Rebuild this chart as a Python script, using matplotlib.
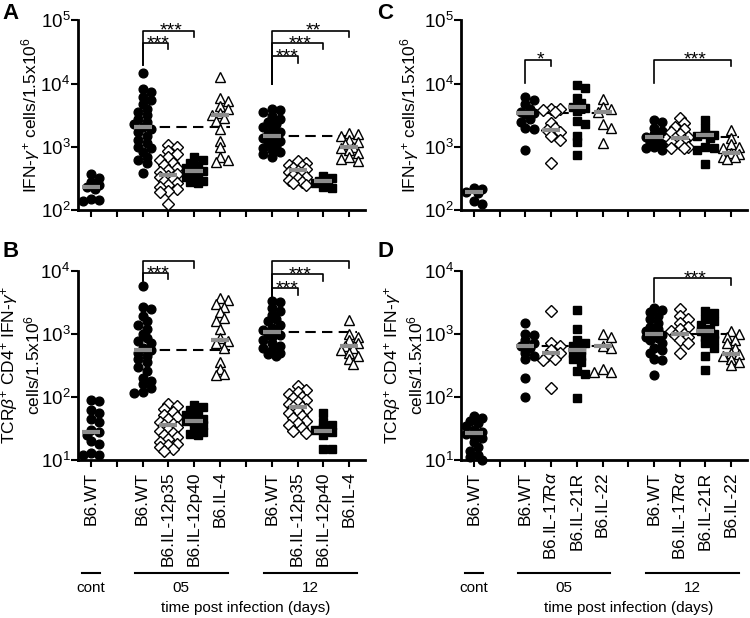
import numpy as np
import matplotlib
matplotlib.use('Agg')
import matplotlib.pyplot as plt
from matplotlib.ticker import NullLocator
from matplotlib.transforms import blended_transform_factory

plt.rcParams['font.family'] = ['Liberation Sans', 'DejaVu Sans']
plt.rcParams['mathtext.fontset'] = 'custom'
plt.rcParams['mathtext.rm'] = 'Liberation Sans'
plt.rcParams['mathtext.it'] = 'Liberation Sans:italic'
plt.rcParams['mathtext.bf'] = 'Liberation Sans:bold'

# column positions: cont, day 05 (4 strains), day 12 (4 strains)
positions = [0, 2, 3, 4, 5, 7, 8, 9, 10]
markers = ['o', 'o', 'D', 's', '^', 'o', 'D', 's', '^']

# ---- panel A: IFN-g+ cells, IL-12/IL-4 knockouts
a_vals = [
    [370, 320, 275, 250, 230, 215, 150, 140, 145],
    [14500, 8200, 7500, 6200, 5500, 4800, 4000, 3500, 3200, 2800, 2500, 2300, 2100,
     1900, 1700, 1500, 1300, 1150, 1000, 950, 820, 700, 620, 560, 380],
    [1080, 1000, 850, 760, 680, 620, 560, 510, 470, 430, 400, 370, 350, 330, 310,
     290, 270, 250, 230, 215, 200, 190, 125],
    [680, 620, 550, 500, 470, 440, 410, 390, 360, 330, 300, 290, 280, 270],
    [12800, 6000, 5300, 4500, 3900, 3400, 3200, 2900, 2600, 1950, 1250, 1000, 700, 620, 580],
    [4000, 3800, 3500, 3100, 2800, 2500, 2300, 2100, 1900, 1700, 1600, 1500, 1400,
     1350, 1250, 1150, 1050, 950, 880, 820, 760, 700],
    [600, 560, 520, 490, 460, 440, 420, 400, 380, 360, 340, 320, 300, 280, 265, 250],
    [350, 320, 290, 280, 270, 230, 220],
    [1650, 1600, 1500, 1300, 1200, 1100, 1000, 950, 900, 800, 700, 650, 600],
]
a_medians = [230, 2100, 355, 410, 3200, 1500, 430, 285, 1000]

# ---- panel B: TCRb+ CD4+ IFN-g+ cells, IL-12/IL-4 knockouts
b_vals = [
    [88, 86, 62, 55, 45, 40, 30, 28, 25, 20, 18, 13, 12, 12],
    [5800, 2700, 2500, 1900, 1600, 1400, 1200, 1000, 850, 780, 700, 600, 560, 500,
     450, 400, 350, 300, 260, 200, 180, 160, 140, 120, 115],
    [78, 72, 65, 58, 52, 48, 44, 40, 37, 35, 33, 31, 29, 27, 25, 23, 21, 19, 18, 17,
     16, 15, 14],
    [75, 70, 62, 58, 52, 48, 44, 42, 40, 36, 32, 28, 26, 25],
    [3700, 3400, 3000, 2700, 2200, 1800, 1600, 1200, 850, 780, 700, 600, 350, 280, 230, 220],
    [3300, 3200, 2600, 2300, 2000, 1700, 1600, 1400, 1250, 1150, 1050, 1000, 950, 900,
     800, 700, 650, 600, 550, 500, 470, 450],
    [150, 130, 120, 110, 100, 95, 88, 82, 76, 70, 68, 64, 60, 55, 50, 46, 42, 38, 35,
     32, 29, 27],
    [55, 40, 36, 32, 30, 28, 25, 15, 15],
    [1650, 1000, 900, 800, 700, 650, 600, 550, 500, 450, 400, 330],
]
b_medians = [28, 550, 35, 42, 790, 1050, 68, 29, 640]

# ---- panel C: IFN-g+ cells, IL-17Ra/IL-21R/IL-22 knockouts
c_vals = [
    [225, 215, 195, 185, 140, 125],
    [6200, 5500, 4700, 3900, 3600, 3400, 3300, 2800, 2500, 2000, 1900, 900],
    [4000, 3900, 3800, 3600, 2400, 2000, 1850, 1700, 1500, 1300, 560],
    [9500, 8500, 6000, 5000, 4300, 4100, 3700, 2600, 2300, 1500, 1200, 750],
    [5800, 4300, 3900, 3500, 2300, 2000, 1150],
    [2700, 2500, 2000, 1800, 1600, 1450, 1350, 1200, 1100, 1000, 950, 900],
    [2900, 2400, 2100, 1900, 1700, 1600, 1450, 1400, 1300, 1200, 1100, 1000, 950, 950],
    [2700, 2000, 1600, 1550, 1500, 1400, 1000, 950, 900, 540],
    [1850, 1400, 1100, 1000, 950, 800, 780, 700, 680, 650],
]
c_medians = [190, 3400, 1850, 4300, 3500, 1420, 1400, 1550, 800]

# ---- panel D: TCRb+ CD4+ IFN-g+ cells, IL-17Ra/IL-21R/IL-22 knockouts
d_vals = [
    [50, 46, 42, 38, 34, 30, 28, 26, 24, 22, 19, 16, 14, 12, 11, 10],
    [1500, 1000, 950, 800, 700, 650, 600, 500, 450, 400, 200, 100],
    [2300, 700, 650, 550, 500, 450, 400, 380, 140],
    [2400, 1200, 800, 700, 650, 560, 500, 450, 400, 350, 260, 230, 95],
    [1000, 900, 650, 600, 280, 250, 250],
    [2600, 2400, 2200, 1900, 1700, 1500, 1300, 1200, 1100, 1000, 950, 900, 850, 800,
     700, 600, 550, 500, 400, 380, 220],
    [2500, 1900, 1700, 1500, 1300, 1200, 1100, 1000, 950, 900, 800, 700, 500],
    [2300, 2100, 1700, 1600, 1400, 1200, 1100, 1000, 900, 800, 700, 600, 450, 270],
    [1100, 1000, 900, 800, 700, 600, 500, 480, 450, 400, 350, 320],
]
d_medians = [27, 650, 500, 560, 650, 1000, 1000, 1100, 480]

labels_left = ['B6.WT', '', 'B6.WT', 'B6.IL-12p35', 'B6.IL-12p40', 'B6.IL-4', '',
               'B6.WT', 'B6.IL-12p35', 'B6.IL-12p40', 'B6.IL-4']
labels_right = ['B6.WT', '', 'B6.WT', 'B6.IL-17R$\\alpha$', 'B6.IL-21R', 'B6.IL-22', '',
                'B6.WT', 'B6.IL-17R$\\alpha$', 'B6.IL-21R', 'B6.IL-22']

# significance brackets: x1, x2, log10 of bar, left end, right end, label
a_brackets = [(2, 3, 4.64, 4.29, 4.54, '***'), (2, 4, 4.84, 4.29, 4.74, '***'),
              (7, 8, 4.43, 4.0, 4.33, '***'), (7, 9, 4.64, 4.0, 4.54, '***'),
              (7, 10, 4.84, 4.0, 4.74, '**')]
b_brackets = [(2, 3, 3.96, 3.83, 3.87, '***'), (2, 4, 4.15, 3.83, 4.04, '***'),
              (7, 8, 3.72, 3.54, 3.62, '***'), (7, 9, 3.94, 3.54, 3.83, '***'),
              (7, 10, 4.15, 3.54, 4.04, '**')]
c_brackets = [(2, 3, 4.38, 4.01, 4.28, '*'), (7, 10, 4.38, 4.01, 4.28, '***')]
d_brackets = [(7, 10, 3.88, 3.51, 3.78, '***')]

PX_DECADE = 63.3
PX_UNIT = 25.8
msizes = {'o': 6.3, 's': 5.8, 'D': 5.8, '^': 7}


def swarm(vals, d=6.0, step=4.2, kmax=2):
    # simple deterministic beeswarm, offsets in pixels -> data units
    ys = np.log10(vals) * PX_DECADE
    order = np.argsort(-ys)
    placed = []
    offs = np.zeros(len(vals))
    cands = [0]
    for k in range(1, kmax + 1):
        cands += [k, -k]
    for i in order:
        bestx, bestd = 0, -1
        for k in cands:
            x = k * step
            dmin = min([np.hypot(x - px, ys[i] - py) for px, py in placed] or [1e9])
            if dmin >= d:
                bestx = x
                break
            if dmin > bestd:
                bestd, bestx = dmin, x
        placed.append((bestx, ys[i]))
        offs[i] = bestx
    return offs / PX_UNIT


def draw_panel(ax, vals, meds, brackets, ylim, ticklabels, ylabel, label_x):
    ax.set_yscale('log')
    ax.set_ylim(ylim)
    ax.set_xlim(-0.5, 10.62)
    for pos, v, m, mk in zip(positions, vals, meds, markers):
        v = np.asarray(v, float)
        dx = swarm(v)
        face = 'black' if mk in ('o', 's') else 'white'
        ax.plot(pos + dx, v, ls='none', marker=mk, ms=msizes[mk], mfc=face, mec='black',
                mew=1, clip_on=False, zorder=3)
        ax.plot([pos - 0.35, pos + 0.35], [m, m], color='#8c8c8c', lw=3,
                solid_capstyle='butt', zorder=4)
    # dashed reference lines at WT medians
    for start, end, idx in [(2, 5.4, 1), (7, 10.3, 5)]:
        ax.plot([start, end], [meds[idx], meds[idx]], color='black', lw=1.5,
                dashes=(5, 3), zorder=2)
    for x1, x2, yb, yl, yr, txt in brackets:
        ax.plot([x1, x1, x2, x2], [10 ** yl, 10 ** yb, 10 ** yb, 10 ** yr],
                color='black', lw=1.2, clip_on=False)
        ax.annotate(txt, ((x1 + x2) / 2 + 0.1, 10 ** yb), xytext=(0, -3.5),
                    textcoords='offset points', ha='center', va='baseline', fontsize=14)
    for side in ['top', 'right']:
        ax.spines[side].set_visible(False)
    for side in ['left', 'bottom']:
        ax.spines[side].set_linewidth(2)
    ax.yaxis.set_minor_locator(NullLocator())
    ax.tick_params(axis='both', direction='out', length=5, width=1.5, labelsize=13.5)
    ax.tick_params(axis='y', pad=0.5)
    ax.set_xticks(range(11))
    if ticklabels is None:
        ax.set_xticklabels([''] * 11)
    else:
        ax.set_xticklabels(ticklabels, rotation=90, va='top', ha='center', fontsize=12.5)
    ax.set_ylabel(ylabel, fontsize=12.5, linespacing=1.15)
    ax.yaxis.set_label_coords(label_x, 0.5)


fig = plt.figure(figsize=(7.5, 6.18), dpi=100)
ax_a = fig.add_axes([0.104, 0.660, 0.383, 0.307])
ax_b = fig.add_axes([0.104, 0.256, 0.383, 0.306])
ax_c = fig.add_axes([0.615, 0.660, 0.381, 0.307])
ax_d = fig.add_axes([0.615, 0.256, 0.381, 0.306])

ylab1 = 'IFN-$\\gamma^{+}$ cells/1.5x10$^{6}$'
ylab2 = 'TCR$\\beta^{+}$ CD4$^{+}$ IFN-$\\gamma^{+}$\ncells/1.5x10$^{6}$'

draw_panel(ax_a, a_vals, a_medians, a_brackets, (1e2, 1e5), None, ylab1, -0.125)
draw_panel(ax_b, b_vals, b_medians, b_brackets, (1e1, 1e4), labels_left, ylab2, -0.125)
draw_panel(ax_c, c_vals, c_medians, c_brackets, (1e2, 1e5), None, ylab1, -0.14)
draw_panel(ax_d, d_vals, d_medians, d_brackets, (1e1, 1e4), labels_right, ylab2, -0.125)

# group lines and labels under the bottom panels
for ax in [ax_b, ax_d]:
    tr = blended_transform_factory(ax.transData, fig.transFigure)
    for x1, x2, txt in [(-0.35, 0.35, 'cont'), (1.7, 5.3, '05'), (6.7, 10.3, '12')]:
        ax.plot([x1, x2], [0.0728, 0.0728], color='black', lw=1.5, transform=tr,
                clip_on=False)
        ax.text((x1 + x2) / 2, 0.0485, txt, transform=tr, ha='center', va='center',
                fontsize=11)
    ax.text(6, 0.016, 'time post infection (days)', transform=tr, ha='center',
            va='center', fontsize=11)

for x, y, letter in [(0.003, 0.995, 'A'), (0.003, 0.61, 'B'), (0.503, 0.995, 'C'),
                     (0.503, 0.61, 'D')]:
    fig.text(x, y, letter, fontsize=16, fontweight='bold', va='top', ha='left')

fig.savefig('out.png', dpi=100)
